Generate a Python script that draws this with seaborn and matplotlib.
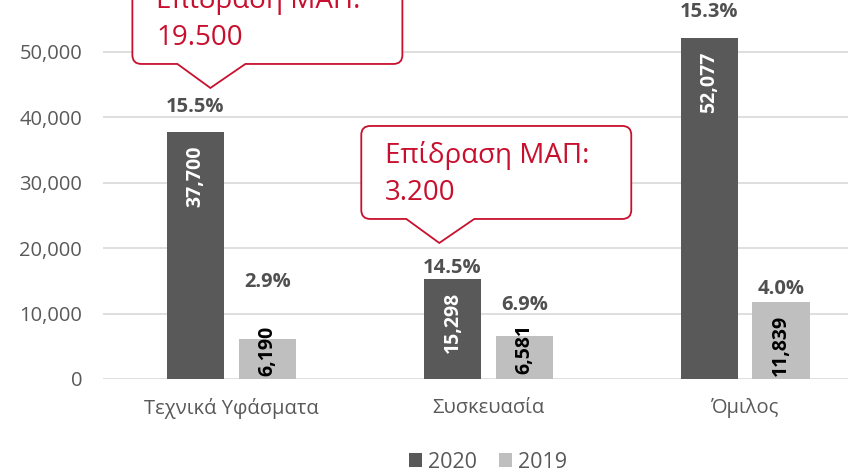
import matplotlib
matplotlib.use('Agg')
import matplotlib.pyplot as plt
import seaborn as sns
import pandas as pd
from matplotlib.path import Path
from matplotlib.patches import PathPatch, Patch
from matplotlib.transforms import IdentityTransform

# dados do gráfico
categorias = ['Τεχνικά Υφάσματα', 'Συσκευασία', 'Όμιλος']
anos = ['2020', '2019']
valores_2020 = [37700, 15298, 52077]
valores_2019 = [6190, 6581, 11839]
pct_2020 = ['15.5%', '14.5%', '15.3%']
pct_2019 = ['2.9%', '6.9%', '4.0%']
callout_textos = ['Επίδραση ΜΑΠ:\n19.500', 'Επίδραση ΜΑΠ:\n3.200']

# cores
cores = {'2020': '#595959', '2019': '#BFBFBF'}
vermelho = '#C8102E'
cinza_texto = '#595959'

df = pd.DataFrame({
    'categoria': categorias * 2,
    'ano': ['2020'] * 3 + ['2019'] * 3,
    'valor': valores_2020 + valores_2019,
})

sns.set_style('white')
plt.rcParams['font.family'] = ['Open Sans', 'DejaVu Sans']

fig = plt.figure(figsize=(8.48, 4.72), dpi=100)
ax = fig.add_axes([103 / 848, 93 / 472, 1 - 103 / 848, 379 / 472])

sns.barplot(data=df, x='categoria', y='valor', hue='ano', order=categorias,
            hue_order=anos, palette=cores, width=0.56, gap=0.2,
            linewidth=0, legend=False, ax=ax, zorder=2)

ax.set_xlim(-0.5, 2.40)
ax.set_ylim(0, 57950)
ax.set_yticks(range(0, 60000, 10000))
ax.yaxis.set_major_formatter(matplotlib.ticker.FuncFormatter(lambda v, p: f'{int(v):,}'))
ax.grid(axis='y', color='#D9D9D9', linewidth=1.2, zorder=0)
ax.set_axisbelow(True)
sns.despine(ax=ax, left=True, bottom=True, top=True, right=True)
ax.set_xlabel('')
ax.set_ylabel('')
ax.tick_params(axis='y', length=0, pad=15, labelsize=14.5, labelcolor=cinza_texto)
ax.tick_params(axis='x', length=0, pad=14, labelsize=14.5, labelcolor=cinza_texto)

# rótulos de valor (dentro das barras) e percentuais (acima)
px_por_unidade = 379 / 57950
offsets_pct = {'2020': [25, 11, 26], '2019': [57, 31, 13]}
pcts = {'2020': pct_2020, '2019': pct_2019}
for ano, cont in zip(anos, ax.containers):
    cor_txt = 'white' if ano == '2020' else 'black'
    for i, bar in enumerate(cont):
        x = bar.get_x() + bar.get_width() / 2
        h = bar.get_height()
        if h * px_por_unidade > 70:
            ax.annotate(f'{int(h):,}', (x, h), xytext=(0, -13), textcoords='offset pixels',
                        rotation=90, ha='center', va='top', color=cor_txt,
                        fontsize=14, fontweight='bold', zorder=3)
        else:
            ax.annotate(f'{int(h):,}', (x, h / 2), xytext=(0, 8), textcoords='offset pixels',
                        rotation=90, ha='center', va='center',
                        color=cor_txt, fontsize=14, fontweight='bold', zorder=3,
                        annotation_clip=False)
        ax.annotate(pcts[ano][i], (x, h), xytext=(0, offsets_pct[ano][i]),
                    textcoords='offset pixels', ha='center', va='center',
                    color='#505050', fontsize=14.5, fontweight='bold', zorder=3)


def balao(ax, tip, texto):
    # balão de fala com ponta para baixo, em pixels
    tx, ty = ax.transData.transform(tip)
    L, R = tx - 78, tx + 192
    B = ty + 24
    T = B + 93
    bl, br = tx - 33, tx + 35
    r = 9
    verts = [(L + r, B), (bl, B), (tx, ty), (br, B), (R - r, B), (R, B), (R, B + r),
             (R, T - r), (R, T), (R - r, T), (L + r, T), (L, T), (L, T - r),
             (L, B + r), (L, B), (L + r, B), (L + r, B)]
    codes = [Path.MOVETO, Path.LINETO, Path.LINETO, Path.LINETO, Path.LINETO,
             Path.CURVE3, Path.CURVE3, Path.LINETO, Path.CURVE3, Path.CURVE3,
             Path.LINETO, Path.CURVE3, Path.CURVE3, Path.LINETO, Path.CURVE3,
             Path.CURVE3, Path.CLOSEPOLY]
    patch = PathPatch(Path(verts, codes), facecolor='white', edgecolor=vermelho,
                      linewidth=1.3, transform=IdentityTransform(), zorder=5, clip_on=False)
    ax.add_patch(patch)
    linhas = texto.split('\n')
    for k, linha in enumerate(linhas):
        ax.text(L + 24, T - 30 - 37 * k, linha, transform=IdentityTransform(),
                ha='left', va='center', color=vermelho, fontsize=20, zorder=6)


balao(ax, (-0.082, 44500), callout_textos[0])
balao(ax, (0.809, 20800), callout_textos[1])

# legenda
handles = [Patch(facecolor=cores[a], edgecolor='none', label=a) for a in anos]
fig.legend(handles=handles, loc='center', bbox_to_anchor=(488 / 848, 10 / 472), ncol=2,
           frameon=False, fontsize=15.5, labelcolor=cinza_texto, handlelength=0.6,
           handleheight=0.6, handletextpad=0.3, columnspacing=1.0)

plt.savefig('out.png', dpi=100)
